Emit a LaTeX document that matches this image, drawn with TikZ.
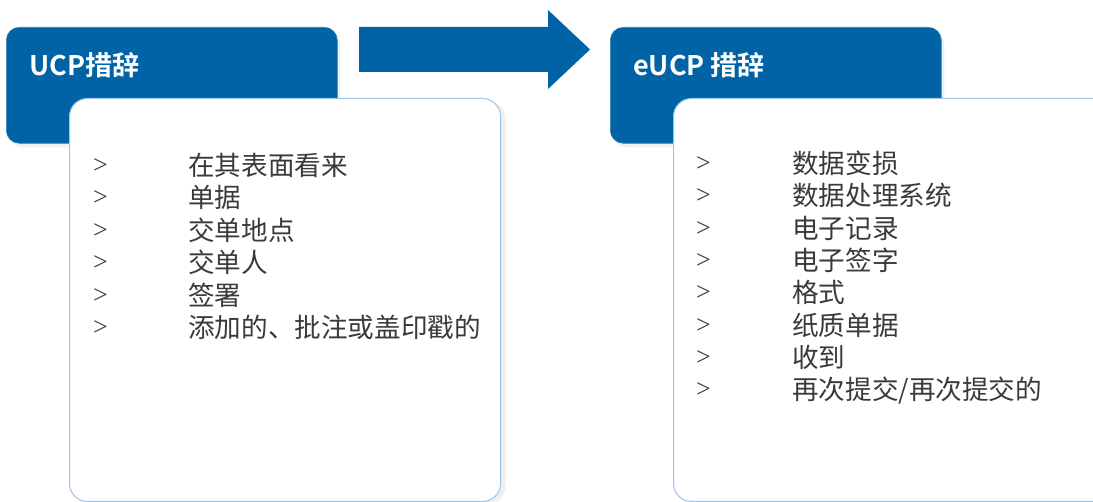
\documentclass[tikz,border=0pt]{standalone}
\usepackage{fontspec}
\newfontfamily\cjk{Noto Sans CJK SC}
\newfontfamily\cjkbold{Noto Sans CJK SC Bold}
\newfontfamily\serifb{Liberation Serif}
\usetikzlibrary{shadows}
\definecolor{hblue}{HTML}{0063A6}
\definecolor{edge}{HTML}{9DC3E6}
\definecolor{txt}{HTML}{3A3A3A}
\tikzset{
  hdrbox/.style={draw=hblue!80!white, line width=0.6pt, fill=hblue, rounded corners=13pt, anchor=north west, inner sep=0pt,
    drop shadow={opacity=0.12, shadow xshift=3pt, shadow yshift=-4pt}},
  listbox/.style={draw=edge, line width=1pt, fill=white, rounded corners=18pt, anchor=north west, inner sep=0pt,
    drop shadow={opacity=0.12, shadow xshift=5pt, shadow yshift=-3pt}},
  hdrtext/.style={anchor=west, inner sep=0pt, text=white, font=\cjkbold\fontsize{27}{30}\selectfont},
  bul/.style={anchor=base west, inner sep=0pt, text=txt, font=\serifb\fontsize{26}{30}\selectfont},
  item/.style={anchor=base west, inner sep=0pt, text=txt, font=\cjk\fontsize{26.6}{30}\selectfont},
}
\begin{document}
\begin{tikzpicture}[x=1pt,y=-1pt]
\useasboundingbox (0,0) rectangle (1093,502);
\clip (0,0) rectangle (1093,502);
% left
\node[hdrbox, minimum width=331pt, minimum height=116pt] (h1) at (6,27) {};
\node[hdrtext] (t1) at (29,65) {UCP措辞};
\node[listbox, minimum width=431pt, minimum height=403pt] (b1) at (69,98) {};
% arrow
\fill[hblue] (359,27) -- (548,27) -- (548,10) -- (590,49.5) -- (548,89) -- (548,72) -- (359,72) -- cycle;
% right
\node[hdrbox, minimum width=331pt, minimum height=116pt] (h2) at (610,27) {};
\node[hdrtext] (t2) at (633,65) {eUCP 措辞};
\node[listbox, minimum width=460pt, minimum height=403pt] (b2) at (673,98) {};
% left items
\foreach \y/\t [count=\i] in {165/{在其表面看来},197/{单据},230/{交单地点},262/{交单人},295/{签署},327/{添加的、批注或盖印戳的}}{
  \node[bul] (lb\i) at (93,\y+9) {>};
  \node[item] (li\i) at (188,\y+10.5) {\t};
}
% right items
\foreach \y/\t [count=\i] in {163/{数据变损},195/{数据处理系统},228/{电子记录},260/{电子签字},292/{格式},325/{纸质单据},357/{收到},389/{再次提交/再次提交的}}{
  \node[bul] (rb\i) at (696,\y+9) {>};
  \node[item] (ri\i) at (792,\y+10.5) {\t};
}
\end{tikzpicture}
\end{document}
